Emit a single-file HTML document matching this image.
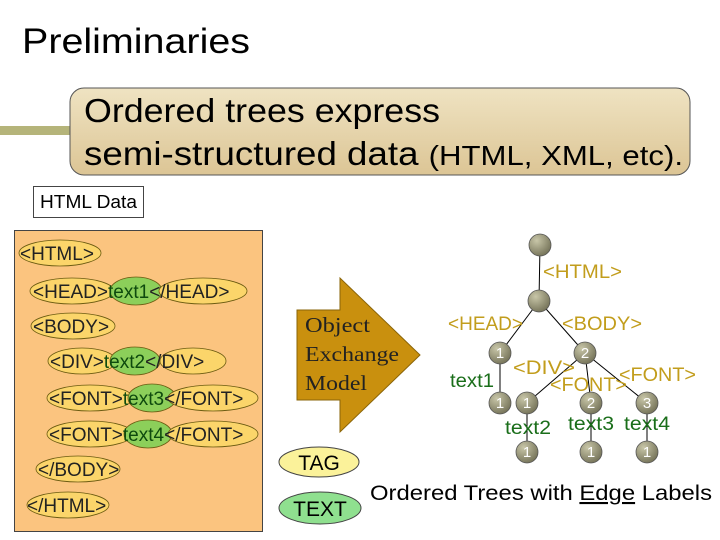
<!DOCTYPE html>
<html><head><meta charset="utf-8"><style>
body{margin:0;background:#fff;}
svg{display:block;font-family:"Liberation Sans",sans-serif;}
</style></head><body>
<svg width="720" height="540" viewBox="0 0 720 540">
<defs>
<linearGradient id="bx" x1="0" y1="0" x2="0" y2="1"><stop offset="0" stop-color="#efe3c2"/><stop offset="1" stop-color="#dcc595"/></linearGradient>
<radialGradient id="nd" cx="0.35" cy="0.3" r="0.8"><stop offset="0" stop-color="#c8c6a8"/><stop offset="1" stop-color="#6e6c52"/></radialGradient>
</defs>
<text x="22" y="53" font-size="35" fill="#000" textLength="228" lengthAdjust="spacingAndGlyphs">Preliminaries</text>
<rect x="0" y="126" width="80" height="9" fill="#b5b47a"/>
<rect x="70" y="88" width="620" height="87" rx="14" fill="url(#bx)" stroke="#555" stroke-width="1"/>
<text x="84" y="122" font-size="33" fill="#000" textLength="356" lengthAdjust="spacingAndGlyphs">Ordered trees express</text>
<text x="84" y="165" font-size="33" fill="#000" textLength="599" lengthAdjust="spacingAndGlyphs">semi-structured data <tspan font-size="28">(HTML, XML, etc).</tspan></text>
<rect x="33.5" y="186.5" width="110" height="31" fill="#fff" stroke="#444"/>
<text x="40" y="208" font-size="18" textLength="97" lengthAdjust="spacingAndGlyphs">HTML Data</text>
<rect x="14.5" y="230.5" width="248" height="301" fill="#fbc47f" stroke="#444"/>
<g font-size="19" fill="#3a3a00" stroke="#6a5a10" stroke-width="0.8">
<ellipse cx="60" cy="253" rx="41" ry="13" fill="#fbd56a"/>
<ellipse cx="72" cy="291" rx="42" ry="13" fill="#fbd56a"/>
<ellipse cx="136" cy="291" rx="26" ry="14" fill="#8ccf5a"/>
<ellipse cx="203" cy="291" rx="44" ry="13" fill="#fbd56a"/>
<ellipse cx="73" cy="326" rx="42" ry="13" fill="#fbd56a"/>
<ellipse cx="82" cy="361" rx="34" ry="13" fill="#fbd56a"/>
<ellipse cx="135" cy="361" rx="25" ry="14" fill="#8ccf5a"/>
<ellipse cx="193" cy="361" rx="33" ry="13" fill="#fbd56a"/>
<ellipse cx="90" cy="398" rx="43" ry="13" fill="#fbd56a"/>
<ellipse cx="152" cy="398" rx="24" ry="14" fill="#8ccf5a"/>
<ellipse cx="213" cy="398" rx="45" ry="13" fill="#fbd56a"/>
<ellipse cx="90" cy="434" rx="43" ry="13" fill="#fbd56a"/>
<ellipse cx="148" cy="434" rx="24" ry="14" fill="#8ccf5a"/>
<ellipse cx="213" cy="434" rx="45" ry="13" fill="#fbd56a"/>
<ellipse cx="78" cy="469" rx="42" ry="13" fill="#fbd56a"/>
<ellipse cx="68" cy="505" rx="41" ry="13" fill="#fbd56a"/>
</g>
<g font-size="19" fill="#222">
<text x="20" y="260">&lt;HTML&gt;</text>
<text x="33" y="298">&lt;HEAD&gt;<tspan fill="#0e4a0e">text1</tspan>&lt;/HEAD&gt;</text>
<text x="33" y="333">&lt;BODY&gt;</text>
<text x="50" y="368">&lt;DIV&gt;<tspan fill="#0e4a0e">text2</tspan>&lt;/DIV&gt;</text>
<text x="49" y="405">&lt;FONT&gt;<tspan fill="#0e4a0e">text3</tspan>&lt;/FONT&gt;</text>
<text x="49" y="441">&lt;FONT&gt;<tspan fill="#0e4a0e">text4</tspan>&lt;/FONT&gt;</text>
<text x="38" y="476">&lt;/BODY&gt;</text>
<text x="27" y="512">&lt;/HTML&gt;</text>
</g>
<polygon points="297,310 340,310 340,278 420,355 340,432 340,400 297,400" fill="#c9900e" stroke="#8a6408"/>
<g font-family="Liberation Serif,serif" font-size="21" fill="#222">
<text x="305" y="332" textLength="65" lengthAdjust="spacingAndGlyphs">Object</text><text x="305" y="361" textLength="94" lengthAdjust="spacingAndGlyphs">Exchange</text><text x="305" y="390" textLength="62" lengthAdjust="spacingAndGlyphs">Model</text>
</g>
<ellipse cx="319" cy="462" rx="40" ry="15" fill="#fbf29a" stroke="#444"/>
<text x="319" y="470" font-size="21" text-anchor="middle">TAG</text>
<ellipse cx="320" cy="508" rx="41" ry="16" fill="#8fe08f" stroke="#444"/>
<text x="320" y="516" font-size="21" text-anchor="middle">TEXT</text>
<text x="370" y="500" font-size="21" textLength="342" lengthAdjust="spacingAndGlyphs">Ordered Trees with <tspan text-decoration="underline">Edge</tspan> Labels</text>
<g stroke="#000" stroke-width="1">
<line x1="540" y1="245" x2="539" y2="301"/>
<line x1="539" y1="301" x2="500" y2="353"/><line x1="539" y1="301" x2="585" y2="353"/>
<line x1="500" y1="353" x2="500" y2="403"/>
<line x1="585" y1="353" x2="527" y2="403"/><line x1="585" y1="353" x2="591" y2="403"/><line x1="585" y1="353" x2="647" y2="403"/>
<line x1="527" y1="403" x2="527" y2="452"/><line x1="591" y1="403" x2="591" y2="452"/><line x1="647" y1="403" x2="647" y2="452"/>
</g>
<g stroke="#555" stroke-width="0.8" fill="url(#nd)">
<circle cx="540" cy="245" r="11"/><circle cx="539" cy="301" r="11"/>
<circle cx="500" cy="353" r="11"/><circle cx="585" cy="353" r="11"/>
<circle cx="500" cy="403" r="11"/><circle cx="527" cy="403" r="11"/><circle cx="591" cy="403" r="11"/><circle cx="647" cy="403" r="11"/>
<circle cx="527" cy="452" r="11"/><circle cx="591" cy="452" r="11"/><circle cx="647" cy="452" r="11"/>
</g>
<g font-size="15" fill="#fff" text-anchor="middle">
<text x="500" y="358">1</text><text x="585" y="358">2</text>
<text x="500" y="408">1</text><text x="527" y="408">1</text><text x="591" y="408">2</text><text x="647" y="408">3</text>
<text x="527" y="457">1</text><text x="591" y="457">1</text><text x="647" y="457">1</text>
</g>
<g font-size="19" fill="#c29d1c">
<text x="543" y="278" textLength="79" lengthAdjust="spacingAndGlyphs">&lt;HTML&gt;</text>
<text x="448" y="330" textLength="75" lengthAdjust="spacingAndGlyphs">&lt;HEAD&gt;</text>
<text x="562" y="330" textLength="80" lengthAdjust="spacingAndGlyphs">&lt;BODY&gt;</text>
<text x="513" y="374" textLength="62" lengthAdjust="spacingAndGlyphs">&lt;DIV&gt;</text>
<text x="550" y="391" textLength="77" lengthAdjust="spacingAndGlyphs">&lt;FONT&gt;</text>
<text x="619" y="381" textLength="77" lengthAdjust="spacingAndGlyphs">&lt;FONT&gt;</text>
</g>
<g font-size="19" fill="#1a6e1a">
<text x="450" y="387" textLength="44" lengthAdjust="spacingAndGlyphs">text1</text>
<text x="505" y="434" textLength="46" lengthAdjust="spacingAndGlyphs">text2</text>
<text x="568" y="430" textLength="46" lengthAdjust="spacingAndGlyphs">text3</text>
<text x="624" y="430" textLength="46" lengthAdjust="spacingAndGlyphs">text4</text>
</g>
</svg>
</body></html>
